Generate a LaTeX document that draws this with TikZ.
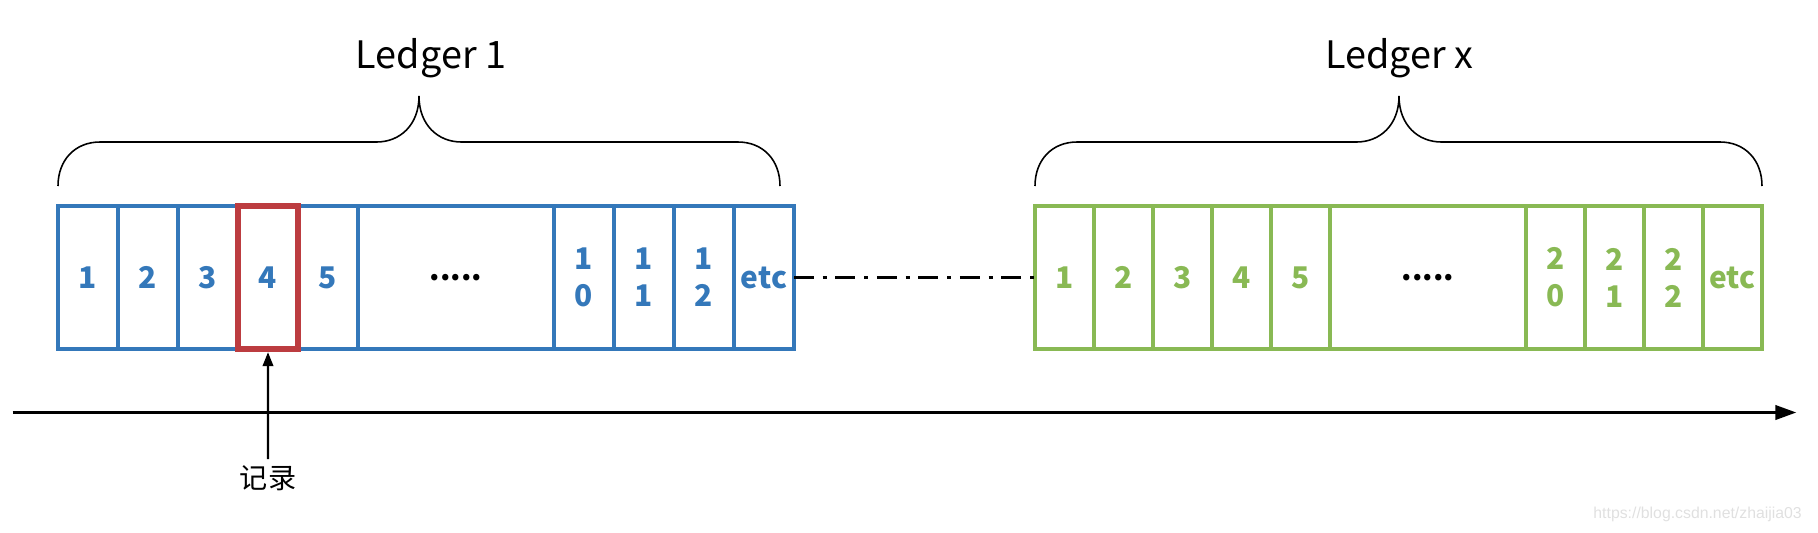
\documentclass[tikz,border=0pt]{standalone}
\usepackage{fontspec}
\setmainfont{Noto Sans CJK SC}
\newfontfamily\markfont{Liberation Sans}
\usepackage{tikz}
\usetikzlibrary{positioning}
\usetikzlibrary{arrows.meta}

\definecolor{ledgerblue}{RGB}{52,120,186}
\definecolor{ledgergreen}{RGB}{137,185,84}
\definecolor{recordred}{RGB}{188,60,64}

\begin{document}
\begin{tikzpicture}[
    cell/.style={
        draw,
        line width=2pt,
        minimum height=2.86cm,
        inner sep=0pt,
        outer sep=0pt,
        align=center,
        font=\bfseries\fontsize{17}{21}\selectfont
    },
    bluecell/.style={cell, draw=ledgerblue, text=ledgerblue, minimum width=1.2cm},
    greencell/.style={cell, draw=ledgergreen, text=ledgergreen, minimum width=1.18cm},
    dotscell/.style={minimum width=3.92cm, text=black},
    brace/.style={line width=0.9pt, black},
    title/.style={anchor=base, font=\fontsize{21.5}{26}\selectfont},
    recordbox/.style={draw=recordred, line width=3.6pt}
]
\useasboundingbox (0,0) rectangle (36.36,-10.64);

% Ledger 1
\node[bluecell, anchor=west] (b1) at (1.16,-5.55) {1};
\node[bluecell, right=0pt of b1] (b2) {2};
\node[bluecell, right=0pt of b2] (b3) {3};
\node[bluecell, right=0pt of b3] (b4) {4};
\node[bluecell, right=0pt of b4] (b5) {5};
\node[bluecell, dotscell, right=0pt of b5] (b6) {.....};
\node[bluecell, right=0pt of b6] (b7) {1\\0};
\node[bluecell, right=0pt of b7] (b8) {1\\1};
\node[bluecell, right=0pt of b8] (b9) {1\\2};
\node[bluecell, right=0pt of b9] (b10) {etc};
\draw[recordbox] (b4.south west) rectangle (b4.north east);

% Ledger x
\node[greencell, anchor=west] (g1) at (20.70,-5.55) {1};
\node[greencell, right=0pt of g1] (g2) {2};
\node[greencell, right=0pt of g2] (g3) {3};
\node[greencell, right=0pt of g3] (g4) {4};
\node[greencell, right=0pt of g4] (g5) {5};
\node[greencell, dotscell, right=0pt of g5] (g6) {.....};
\node[greencell, right=0pt of g6] (g7) {2\\0};
\node[greencell, right=0pt of g7] (g8) {2\\1};
\node[greencell, right=0pt of g8] (g9) {2\\2};
\node[greencell, right=0pt of g9] (g10) {etc};

% Braces and titles
\draw[brace] (1.16,-3.72) .. controls (1.16,-3.2) and (1.5,-2.84) .. (2.0,-2.84)
    -- (7.53,-2.84) .. controls (8.0,-2.84) and (8.38,-2.5) .. (8.38,-1.92)
    .. controls (8.38,-2.5) and (8.76,-2.84) .. (9.23,-2.84)
    -- (14.76,-2.84) .. controls (15.26,-2.84) and (15.6,-3.2) .. (15.6,-3.72);
\draw[brace] (20.70,-3.72) .. controls (20.70,-3.2) and (21.04,-2.84) .. (21.54,-2.84)
    -- (27.13,-2.84) .. controls (27.6,-2.84) and (27.98,-2.5) .. (27.98,-1.92)
    .. controls (27.98,-2.5) and (28.36,-2.84) .. (28.83,-2.84)
    -- (34.40,-2.84) .. controls (34.90,-2.84) and (35.24,-3.2) .. (35.24,-3.72);
\node[title] (ledger1) at (8.62,-1.36) {Ledger 1};
\node[title] (ledgerx) at (27.98,-1.36) {Ledger x};

% Time line and record
\coordinate (tstart) at (0.25,-8.25);
\coordinate (tend) at (35.93,-8.25);
\node[font=\fontsize{16}{19}\selectfont] (record) at (5.36,-9.56) {记录};

% Arrows
\draw[line width=1.2pt, dash pattern=on 11.3pt off 5pt on 2.3pt off 5pt] (b10.east) -- (g1.west);
\draw[line width=2pt, -{Triangle[length=12pt,width=8pt]}] (tstart) -- (tend);
\draw[line width=1.3pt, -{Triangle[length=8pt,width=6pt]}, shorten >=1.8pt] (record.north) -- (b4.south);

\node[anchor=base east, font=\markfont\fontsize{9}{11}\selectfont, text=black!12] (mark) at (36.16,-10.36) {https://blog.csdn.net/zhaijia03};
\end{tikzpicture}
\end{document}
